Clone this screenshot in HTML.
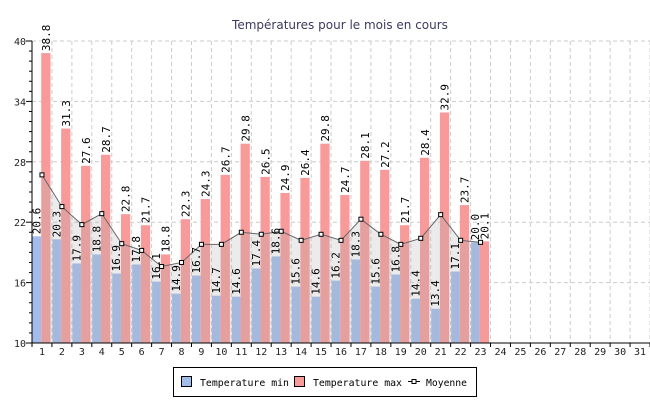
<!DOCTYPE html>
<html><head><meta charset="utf-8"><style>
html,body{margin:0;padding:0;background:#fff;}
svg{display:block;font-family:"DejaVu Sans Mono","Liberation Mono",monospace;}
</style></head><body>
<svg id="c" width="650" height="400" xmlns="http://www.w3.org/2000/svg">
<text x="340" y="29" text-anchor="middle" font-family="DejaVu Sans, Liberation Sans, sans-serif" font-size="12" fill="#3a3a60">Températures pour le mois en cours</text>
</svg>
<script>
const mn=[20.6,20.3,17.9,18.8,16.9,17.8,16.1,14.9,16.7,14.7,14.6,17.4,18.6,15.6,14.6,16.2,18.3,15.6,16.8,14.4,13.4,17.1,20.0];
const mx=[38.8,31.3,27.6,28.7,22.8,21.7,18.8,22.3,24.3,26.7,29.8,26.5,24.9,26.4,29.8,24.7,28.1,27.2,21.7,28.4,32.9,23.7,20.1];
const av=[26.7,23.55,21.76,22.85,19.87,19.2,17.6,18,19.8,19.8,21,20.8,21.1,20.2,20.8,20.2,22.3,20.8,19.8,20.4,22.75,20.2,20.0];
const X0=32,W=618/31,Y0=343,K=302/30;
const y=v=>Y0-(v-10)*K;
let s='';
for(let v=16;v<=40;v+=6)s+=`<line x1="${X0}" x2="650" y1="${y(v)}" y2="${y(v)}" stroke="#ccc" stroke-dasharray="4,3"/>`;
for(let i=1;i<=31;i++){const x=X0+i*W;s+=`<line x1="${x}" x2="${x}" y1="41" y2="${Y0}" stroke="#ccc" stroke-dasharray="4,3"/>`;}
for(let i=0;i<mn.length;i++){const b=X0+i*W;
s+=`<rect x="${b+0.5}" y="${y(mn[i])}" width="8.7" height="${Y0-y(mn[i])}" fill="#a2bdec"/>`;
s+=`<rect x="${b+9.2}" y="${y(mx[i])}" width="9.3" height="${Y0-y(mx[i])}" fill="#f89a9a"/>`;}
let p=`${X0+W/2},${Y0} `;av.forEach((v,i)=>p+=`${X0+i*W+W/2},${y(v)} `);p+=`${X0+22*W+W/2},${Y0}`;
s+=`<polygon points="${p}" fill="#b0b0b0" fill-opacity="0.25"/>`;
s+=`<polyline points="${av.map((v,i)=>(X0+i*W+W/2)+','+y(v)).join(' ')}" fill="none" stroke="#666" stroke-width="1"/>`;
av.forEach((v,i)=>s+=`<rect x="${X0+i*W+W/2-2}" y="${y(v)-2}" width="4" height="4" fill="#fff" stroke="#000" stroke-width="1"/>`);
for(let i=0;i<mn.length;i++){const b=X0+i*W;
[[b+8.5,mn[i]],[b+18,mx[i]]].forEach(([x,v])=>{s+=`<text transform="translate(${x},${y(v)-2}) rotate(-90)" font-size="11" fill="#000">${v.toFixed(1)}</text>`;});}
s+=`<line x1="${X0}" x2="${X0}" y1="41" y2="${Y0}" stroke="#000"/><line x1="${X0}" x2="650" y1="${Y0}" y2="${Y0}" stroke="#000"/>`;
for(let v=10;v<=40;v++){const t=(v-10)%6==0?6:3;s+=`<line x1="${X0-t}" x2="${X0}" y1="${y(v)}" y2="${y(v)}" stroke="#000"/>`;}
for(let v=10;v<=40;v+=6)s+=`<text x="26" y="${y(v)+4}" text-anchor="end" font-size="10" fill="#222">${v}</text>`;
for(let i=0;i<=31;i++){const x=X0+i*W;s+=`<line x1="${x}" x2="${x}" y1="${Y0}" y2="${Y0+4}" stroke="#000"/>`;}
for(let i=0;i<31;i++)s+=`<text x="${X0+i*W+W/2}" y="355" text-anchor="middle" font-size="10" fill="#222">${i+1}</text>`;
s+=`<rect x="173.5" y="367.5" width="303" height="29" fill="#fff" stroke="#000"/>`;
s+=`<rect x="181.5" y="376.5" width="10" height="10" fill="#a2bdec" stroke="#000"/><text x="200" y="386" font-size="10" textLength="89" lengthAdjust="spacingAndGlyphs">Temperature min</text>`;
s+=`<rect x="294.5" y="376.5" width="10" height="10" fill="#f89a9a" stroke="#000"/><text x="313" y="386" font-size="10" textLength="89" lengthAdjust="spacingAndGlyphs">Temperature max</text>`;
s+=`<line x1="408" x2="420" y1="381.5" y2="381.5" stroke="#000"/><rect x="412" y="379.5" width="4" height="4" fill="#fff" stroke="#000"/><text x="426" y="386" font-size="10" textLength="41" lengthAdjust="spacingAndGlyphs">Moyenne</text>`;
document.getElementById('c').insertAdjacentHTML('beforeend',s);
</script>
</body></html>
